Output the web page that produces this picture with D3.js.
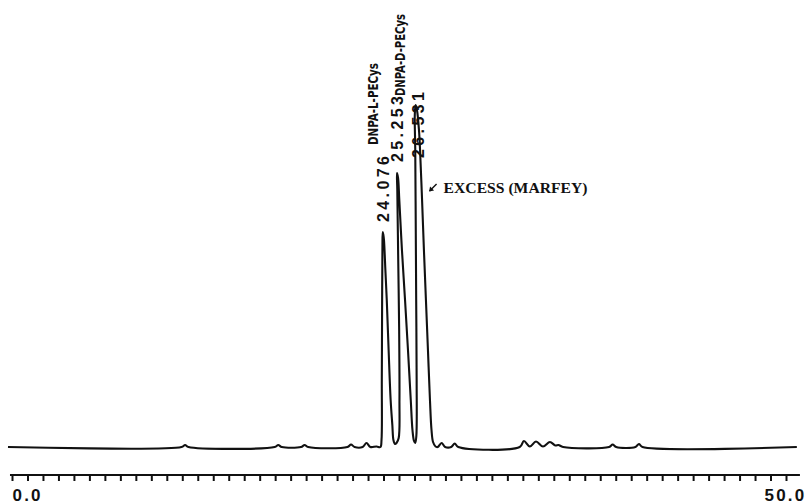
<!DOCTYPE html>
<html>
<head>
<meta charset="utf-8">
<script src="https://cdn.jsdelivr.net/npm/d3@7"></script>
<style>
  body { margin: 0; background: #fff; }
  svg { display: block; }
</style>
</head>
<body>
<div id="chart"></div>
<script>
// Chromatogram trace: [retention time (min), detector signal]
const trace = [
  [-0.26, 0],
  [10.95, 0], [11.18, 2], [11.4, 0],
  [16.97, 0], [17.2, 2], [17.43, 0],
  [18.67, 0], [18.9, 2], [19.13, 0],
  [21.67, 0], [21.9, 2.5], [22.13, 0],
  [22.65, 0], [22.9, 4], [23.15, 0],
  [23.55, 0.5],
  // DNPA-L-PECys
  [23.8, 0], [23.87, 7], [23.89, 67], [23.91, 147], [23.93, 200], [23.95, 215],
  [23.99, 212], [24.03, 207], [24.12, 177], [24.21, 147], [24.33, 97],
  [24.46, 47], [24.57, 22], [24.64, 7], [24.74, 3], [24.84, 4],
  // DNPA-D-PECys
  [24.98, 9], [25.03, 47], [25.01, 117], [24.95, 187], [24.89, 257], [24.87, 274],
  [24.94, 269], [25.02, 247], [25.19, 197], [25.39, 147], [25.58, 97],
  [25.76, 47], [25.87, 17], [25.97, 6], [26.05, 4],
  // excess Marfey reagent
  [26.12, 11], [26.14, 67], [26.11, 147], [26.08, 227], [26.05, 297], [26.02, 332],
  [26.07, 342], [26.16, 337], [26.29, 317], [26.36, 297], [26.49, 247],
  [26.61, 197], [26.74, 147], [26.87, 97], [27.0, 47], [27.1, 17], [27.2, 5],
  [27.36, 0.5],
  [27.5, 0], [27.75, 4], [27.98, 0],
  [28.37, 0], [28.6, 3.5], [28.83, 0],
  [32.8, 0], [33.07, 6], [33.45, 0.5], [33.85, 5.5], [34.3, 0.5], [34.75, 5],
  [35.1, 1.5], [35.3, 2], [35.6, 0],
  [38.57, 0], [38.8, 2.5], [39.03, 0],
  [40.27, 0], [40.5, 3], [40.73, 0],
  [50.7, 0]
];

// peak apex times on the chart axis and their printed retention times
const peakTimes = [23.95, 24.87, 26.07];
const peakLabels = ['24.076', '25.253', '26.531'];
const compoundNames = ['DNPA-L-PECys', 'DNPA-D-PECys'];
const excessLabel = 'EXCESS (MARFEY)';

const tickValues = d3.range(0, 51, 1);
const axisLabels = {0: '0.0', 50: '50.0'};

const width = 807, height = 504;

const svg = d3.select('#chart').append('svg')
  .attr('width', width)
  .attr('height', height);

svg.append('rect').attr('width', width).attr('height', height).attr('fill', '#fff');

// Scales
const x = d3.scaleLinear().domain([0, 50]).range([12, 786]);
const y = d3.scaleLinear().domain([0, 350]).range([447, 97]);

// Trace
const line = d3.line()
  .x(d => x(d[0]))
  .y(d => y(d[1]))
  .curve(d3.curveCatmullRom.alpha(0.5));

svg.append('path')
  .datum(trace)
  .attr('d', line)
  .attr('fill', 'none')
  .attr('stroke', '#111')
  .attr('stroke-width', 2.1)
  .attr('stroke-linejoin', 'round');

// Time axis
const axisY = 475;
const xAxis = d3.axisBottom(x)
  .tickValues(tickValues)
  .tickSize(6)
  .tickSizeOuter(0)
  .tickPadding(8)
  .tickFormat(d => axisLabels[d] || '');

const axisG = svg.append('g')
  .attr('transform', `translate(0,${axisY})`)
  .call(xAxis);

axisG.select('.domain').remove();
axisG.append('line')
  .attr('x1', x(-0.13)).attr('x2', x(50.9))
  .attr('stroke', '#111').attr('stroke-width', 2.2);
axisG.selectAll('.tick line').attr('stroke', '#111').attr('stroke-width', 2);
axisG.selectAll('.tick text')
  .attr('fill', '#111')
  .style('font-family', '"Liberation Sans", Arial, sans-serif')
  .style('font-weight', 'bold')
  .style('font-size', '17px')
  .style('letter-spacing', '2.2px')
  .attr('text-anchor', d => d === 0 ? 'start' : 'middle')
  .attr('dx', d => d === 50 ? -1 : 0);

// Peak annotations
const apexes = peakTimes.map(t =>
  d3.greatest(trace.filter(p => Math.abs(p[0] - t) < 0.3), p => p[1]));

// retention time labels (rotated), bottom end of each label in pixels
const rtBottom = [222, 162, 158];
const rtDx = [0, 0.5, 2.5];
svg.selectAll('.rt')
  .data(peakLabels)
  .join('text')
  .attr('class', 'rt')
  .attr('transform', (d, i) => `translate(${x(apexes[i][0]) + rtDx[i] + 6},${rtBottom[i]}) rotate(-90)`)
  .attr('textLength', 66)
  .attr('lengthAdjust', 'spacing')
  .style('font-family', '"Liberation Sans", Arial, sans-serif')
  .style('font-weight', 'bold')
  .style('font-size', '16px')
  .attr('fill', '#111')
  .text(d => d);

// compound names, condensed
const nameX = [372, 399];
const nameBottom = [145, 96];
svg.selectAll('.name')
  .data(compoundNames)
  .join('text')
  .attr('class', 'name')
  .attr('transform', (d, i) => `translate(${nameX[i] + 5.5},${nameBottom[i]}) rotate(-90)`)
  .attr('textLength', 82)
  .attr('lengthAdjust', 'spacingAndGlyphs')
  .style('font-family', '"Liberation Sans Narrow", "DejaVu Sans Condensed", sans-serif')
  .style('font-weight', 'bold')
  .style('font-size', '14.5px')
  .attr('fill', '#111')
  .text(d => d);

// excess reagent arrow + label
const ax = x(apexes[2][0]) + 14, ay = 190;
svg.append('path')
  .attr('d', `M${ax + 7},${ay - 6} L${ax},${ay + 1}`)
  .attr('stroke', '#111').attr('stroke-width', 1.4);
svg.append('path')
  .attr('d', `M${ax - 0.5},${ay + 1.5} L${ax + 4.5},${ay + 0.5} L${ax + 0.5},${ay - 3.5} Z`)
  .attr('fill', '#111');

svg.append('text')
  .attr('x', ax + 14)
  .attr('y', 193)
  .attr('textLength', 144)
  .attr('lengthAdjust', 'spacingAndGlyphs')
  .style('font-family', '"Liberation Serif", "DejaVu Serif", serif')
  .style('font-weight', 'bold')
  .style('font-size', '14px')
  .attr('fill', '#111')
  .text(excessLabel);
</script>
</body>
</html>
